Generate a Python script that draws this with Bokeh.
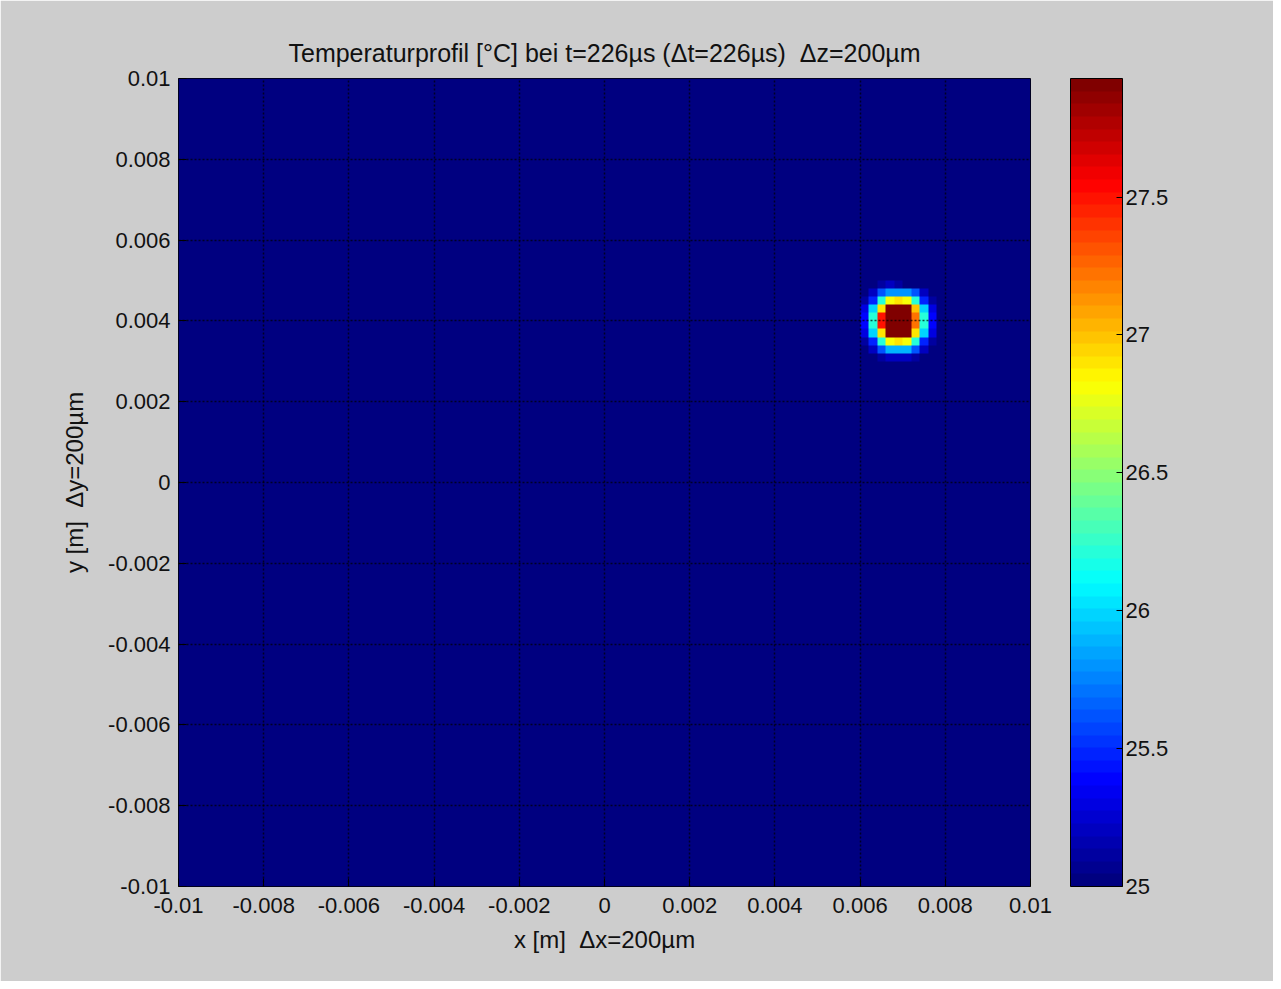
import numpy as np
from bokeh.plotting import figure
from bokeh.models import LinearColorMapper, ColorBar, FixedTicker
from bokeh.embed import file_html
from bokeh.resources import INLINE

# ---------------- data ----------------
x_min, x_max = -0.01, 0.01
y_min, y_max = -0.01, 0.01
n_cells = 100                 # 200 µm cells
T_ambient = 25.0

# hot-spot patch: rows listed from top of the picture, columns left to right
patch_top_row = 25            # row index counted from the top edge (y = 0.01)
patch_left_col = 79           # column index counted from the left edge (x = -0.01)
spot_values = [
    [25.0, 25.0, 25.0, 25.1, 25.2, 25.1, 25.0, 25.0, 25.0, 25.0, 25.0],
    [25.0, 25.0, 25.2, 25.6, 25.8, 25.8, 25.8, 25.6, 25.2, 25.0, 25.0],
    [25.0, 25.1, 25.5, 26.2, 26.8, 26.9, 26.8, 26.2, 25.5, 25.1, 25.0],
    [25.0, 25.3, 26.0, 26.9, 27.93, 27.93, 27.93, 27.0, 26.0, 25.3, 25.0],
    [25.0, 25.4, 26.2, 27.5, 27.93, 27.93, 27.93, 27.2, 26.2, 25.4, 25.0],
    [25.0, 25.4, 26.2, 27.5, 27.93, 27.93, 27.93, 27.2, 26.2, 25.4, 25.0],
    [25.0, 25.3, 26.0, 26.9, 27.93, 27.93, 27.93, 26.9, 26.0, 25.3, 25.0],
    [25.0, 25.1, 25.5, 26.2, 26.8, 26.9, 26.8, 26.2, 25.5, 25.1, 25.0],
    [25.0, 25.0, 25.2, 25.6, 25.9, 25.9, 25.9, 25.6, 25.2, 25.0, 25.0],
    [25.0, 25.0, 25.0, 25.1, 25.2, 25.2, 25.2, 25.1, 25.0, 25.0, 25.0],
]

axis_ticks = [-0.01, -0.008, -0.006, -0.004, -0.002, 0, 0.002, 0.004, 0.006, 0.008, 0.01]
axis_tick_labels = ["-0.01", "-0.008", "-0.006", "-0.004", "-0.002", "0",
                    "0.002", "0.004", "0.006", "0.008", "0.01"]
cbar_ticks = [25, 25.5, 26, 26.5, 27, 27.5]
cbar_tick_labels = ["25", "25.5", "26", "26.5", "27", "27.5"]

title_text = "Temperaturprofil [°C] bei t=226µs (\u0394t=226µs)\u00a0 \u0394z=200µm"
x_label = "x [m]\u00a0 \u0394x=200µm"
y_label = "y [m]\u00a0 \u0394y=200µm"

# ---------------- build field ----------------
field = np.full((n_cells, n_cells), T_ambient)
spot = np.array(spot_values)
for i, row in enumerate(spot):
    k_top = patch_top_row + i
    j = n_cells - 1 - k_top
    field[j, patch_left_col:patch_left_col + len(row)] = row


def jet(n):
    cols = []
    for i in range(n):
        v = i / (n - 1)
        r = min(max(min(4 * v - 1.5, -4 * v + 4.5), 0), 1)
        g = min(max(min(4 * v - 0.5, -4 * v + 3.5), 0), 1)
        b = min(max(min(4 * v + 0.5, -4 * v + 2.5), 0), 1)
        cols.append("#%02x%02x%02x" % (int(round(r * 255)), int(round(g * 255)), int(round(b * 255))))
    return cols


mapper = LinearColorMapper(palette=jet(64), low=float(field.min()), high=float(field.max()))

FONT = "Liberation Sans"
FS = "22px"
BG = "#cdcdcd"

p = figure(width=1273, height=981, x_range=(x_min, x_max), y_range=(y_min, y_max),
           output_backend="svg", toolbar_location=None,
           min_border_left=178, min_border_right=243, min_border_top=78, min_border_bottom=95)
p.border_fill_color = BG
p.background_fill_color = BG
p.outline_line_color = "black"
p.outline_line_width = 1

p.image(image=[field], x=x_min, y=y_min, dw=x_max - x_min, dh=y_max - y_min, color_mapper=mapper)

p.title.text = title_text
p.title.align = "center"
p.title.text_font = FONT
p.title.text_font_size = "25px"
p.title.text_font_style = "normal"
p.title.text_color = "#111111"
p.title.standoff = 24

for ax in (p.xaxis[0], p.yaxis[0]):
    ax.ticker = FixedTicker(ticks=axis_ticks)
    ax.major_label_overrides = {t: l for t, l in zip(axis_ticks, axis_tick_labels)}
    ax.major_label_text_font = FONT
    ax.major_label_text_font_size = FS
    ax.major_label_text_color = "#111111"
    ax.axis_label_text_font = FONT
    ax.axis_label_text_font_size = "24px"
    ax.axis_label_text_font_style = "normal"
    ax.axis_label_text_color = "#111111"
    ax.axis_line_color = None
    ax.major_tick_in = 8
    ax.major_tick_out = 0
    ax.minor_tick_in = 0
    ax.minor_tick_out = 0
    ax.major_tick_line_color = "black"

p.xaxis.axis_label = x_label
p.yaxis.axis_label = y_label
p.xaxis.major_label_standoff = 11
p.yaxis.major_label_standoff = 8
p.xaxis.axis_label_standoff = 10
p.yaxis.axis_label_standoff = 17

for g in (p.xgrid[0], p.ygrid[0]):
    g.ticker = FixedTicker(ticks=axis_ticks)
    g.grid_line_color = "black"
    g.grid_line_alpha = 0.7
    g.grid_line_width = 1.5
    g.grid_line_dash = "2 2"
    g.level = "overlay"

cb = ColorBar(color_mapper=mapper, width=52, height=808, padding=0, margin=0,
              location=(892, 0),
              ticker=FixedTicker(ticks=cbar_ticks),
              major_label_overrides={t: l for t, l in zip(cbar_ticks, cbar_tick_labels)},
              major_label_text_font=FONT, major_label_text_font_size=FS,
              major_label_text_color="#111111",
              major_tick_in=6, major_tick_out=0, major_tick_line_color="black",
              minor_tick_line_color=None,
              bar_line_color="black", label_standoff=3,
              background_fill_alpha=0, border_line_color=None)
p.add_layout(cb, "center")

open("out.html", "w").write(file_html(p, INLINE))
